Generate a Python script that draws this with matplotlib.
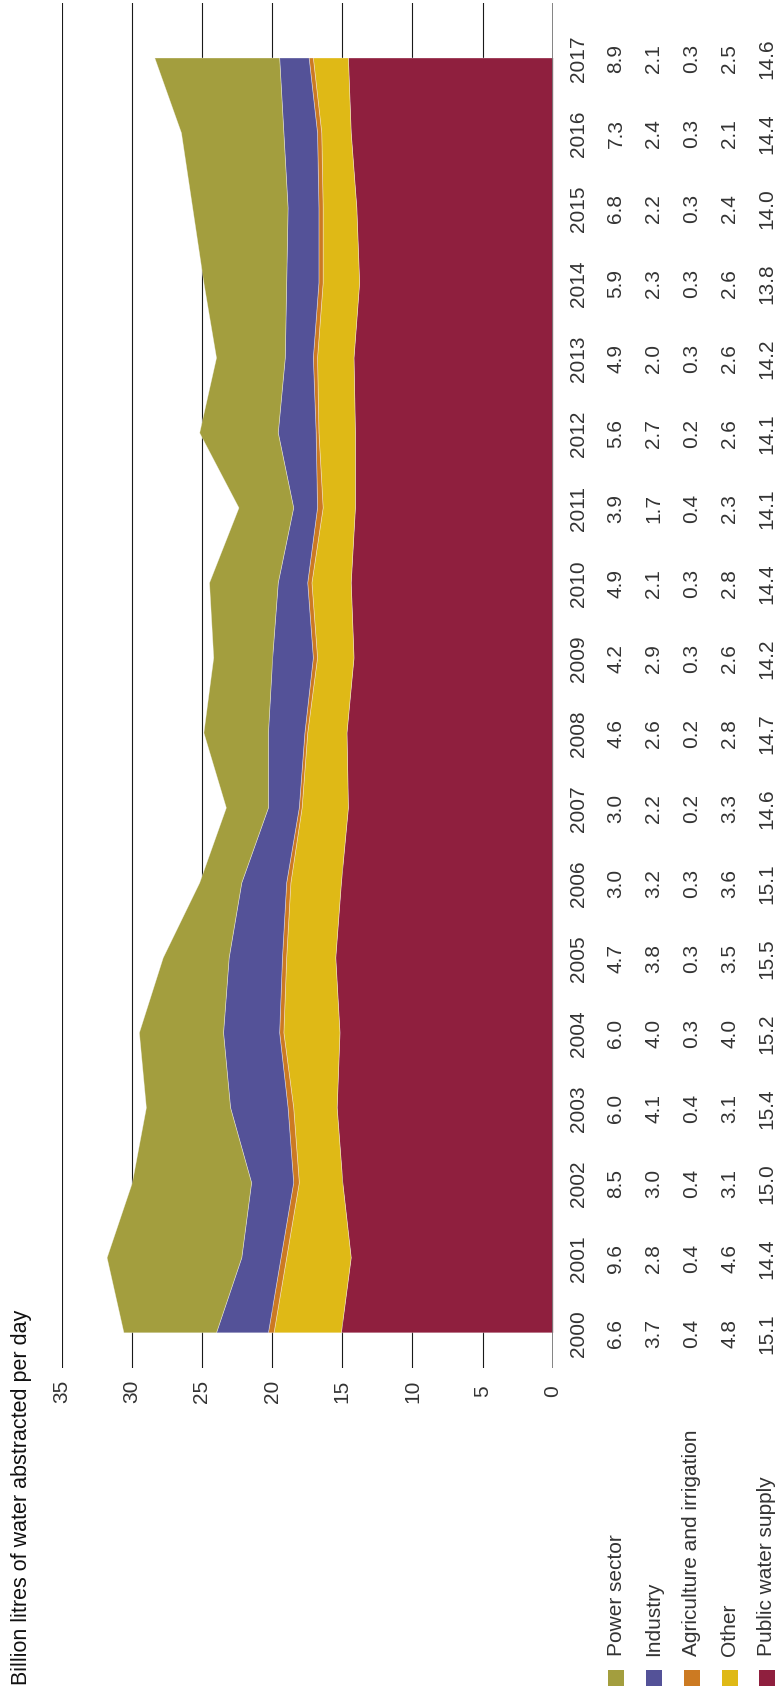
import matplotlib
matplotlib.use('Agg')
import matplotlib.pyplot as plt
from matplotlib.transforms import blended_transform_factory
from matplotlib.patches import Rectangle
import numpy as np

plt.rcParams['font.family'] = ['Liberation Sans', 'DejaVu Sans']
plt.rcParams['font.weight'] = 'normal'

years = list(range(2000, 2018))
power = [6.6, 9.6, 8.5, 6.0, 6.0, 4.7, 3.0, 3.0, 4.6, 4.2, 4.9, 3.9, 5.6, 4.9, 5.9, 6.8, 7.3, 8.9]
industry = [3.7, 2.8, 3.0, 4.1, 4.0, 3.8, 3.2, 2.2, 2.6, 2.9, 2.1, 1.7, 2.7, 2.0, 2.3, 2.2, 2.4, 2.1]
agriculture = [0.4, 0.4, 0.4, 0.4, 0.3, 0.3, 0.3, 0.2, 0.2, 0.3, 0.3, 0.4, 0.2, 0.3, 0.3, 0.3, 0.3, 0.3]
other = [4.8, 4.6, 3.1, 3.1, 4.0, 3.5, 3.6, 3.3, 2.8, 2.6, 2.8, 2.3, 2.6, 2.6, 2.6, 2.4, 2.1, 2.5]
public = [15.1, 14.4, 15.0, 15.4, 15.2, 15.5, 15.1, 14.6, 14.7, 14.2, 14.4, 14.1, 14.1, 14.2, 13.8, 14.0, 14.4, 14.6]

series_names = ["Power sector", "Industry", "Agriculture and irrigation", "Other", "Public water supply"]
series_values = [power, industry, agriculture, other, public]
series_colors = ["#A39E3E", "#545298", "#CC7A22", "#DFB916", "#8F1F3E"]
value_ticks = [0, 5, 10, 15, 20, 25, 30, 35]
title = "Billion litres of water abstracted per day"

W, H, DPI = 779, 1690, 100
fig = plt.figure(figsize=(W / DPI, H / DPI), dpi=DPI)
fig.patch.set_facecolor('white')


def fx(px):
    return px / W


def fy(py):
    return 1 - py / H


x0_px, x35_px = 552.7, 61.7
top_px, bot_px = 4, 1369
y2000_px, y2017_px = 1333.3, 58.5
per_year = (y2000_px - y2017_px) / 17.0

ax = fig.add_axes([fx(x35_px), fy(bot_px), fx(x0_px) - fx(x35_px), fy(top_px) - fy(bot_px)])
ax.set_xlim(35, 0)
ax.set_ylim(2000 - (bot_px - y2000_px) / per_year, 2017 + (y2017_px - top_px) / per_year)
ax.axis('off')

for v in value_ticks[1:]:
    ax.axvline(v, color='#1a1a1a', lw=0.8, zorder=0)
ax.axvline(0, color='#7a7a7a', lw=1.3, zorder=4)

# stack from the axis: public first, then other, agriculture, industry, power
cum = np.zeros(len(years))
for name, vals, col in reversed(list(zip(series_names, series_values, series_colors))):
    v = np.array(vals)
    ax.fill_betweenx(years, cum, cum + v, facecolor=col, edgecolor=(1, 1, 1, 0.45), lw=0.5, zorder=2)
    cum = cum + v

fs = 15
tc = '#333333'
# value tick labels
tr_x = blended_transform_factory(ax.transData, fig.transFigure)
for v in value_ticks:
    ax.text(v, fy(1391), str(v), rotation=90, ha='center', va='center', fontsize=fs,
            color=tc, transform=tr_x)

# table
col_x = [616.0, 654.0, 691.7, 730.0, 766.7]
tr_y = blended_transform_factory(fig.transFigure, ax.transData)
for i, yr in enumerate(years):
    ax.text(fx(578.3), yr, str(yr), rotation=90, ha='center', va='center', fontsize=fs,
            color=tc, transform=tr_y)
    for cx, vals in zip(col_x, series_values):
        ax.text(fx(cx), yr, f"{vals[i]:.1f}", rotation=90, ha='center', va='center', fontsize=fs,
                color=tc, transform=tr_y)

# legend
for cx, name, col in zip(col_x, series_names, series_colors):
    fig.patches.append(Rectangle((fx(cx - 8), fy(1687)), 16 / W, 16 / H, transform=fig.transFigure,
                                 facecolor=col, edgecolor='none'))
    fig.text(fx(cx), fy(1656), name, rotation=90, ha='center', va='bottom', fontsize=fs, color=tc)

# title
fig.text(fx(22), fy(1685), title, rotation=90, ha='center', va='bottom', fontsize=15.5, color='#111111')

fig.savefig('out.png', dpi=DPI, facecolor='white')
